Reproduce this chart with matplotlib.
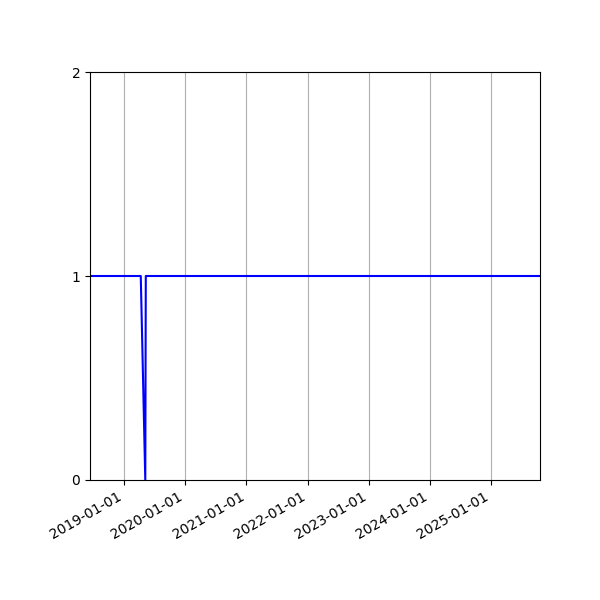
import matplotlib
matplotlib.use("Agg")
import matplotlib.pyplot as plt
import matplotlib.dates as mdates
import pandas as pd

dates = ["2018-06-12", "2019-04-11", "2019-05-08", "2019-05-11", "2025-10-19"]
values = [1, 1, 0, 1, 1]

x = pd.to_datetime(dates)

fig, ax = plt.subplots(figsize=(6, 6), dpi=100)
ax.plot(x, values, color="blue", linewidth=1.5)
ax.set_xlim(x[0], x[-1])
ax.set_ylim(0, 2)
ax.set_yticks([0, 1, 2])
ax.xaxis.set_major_locator(mdates.YearLocator())
ax.xaxis.set_major_formatter(mdates.DateFormatter("%Y-%m-%d"))
ax.grid(True, axis="x")
fig.autofmt_xdate()
fig.subplots_adjust(left=0.15, right=0.9, top=0.88, bottom=0.2)
fig.savefig("out.png", dpi=100)
